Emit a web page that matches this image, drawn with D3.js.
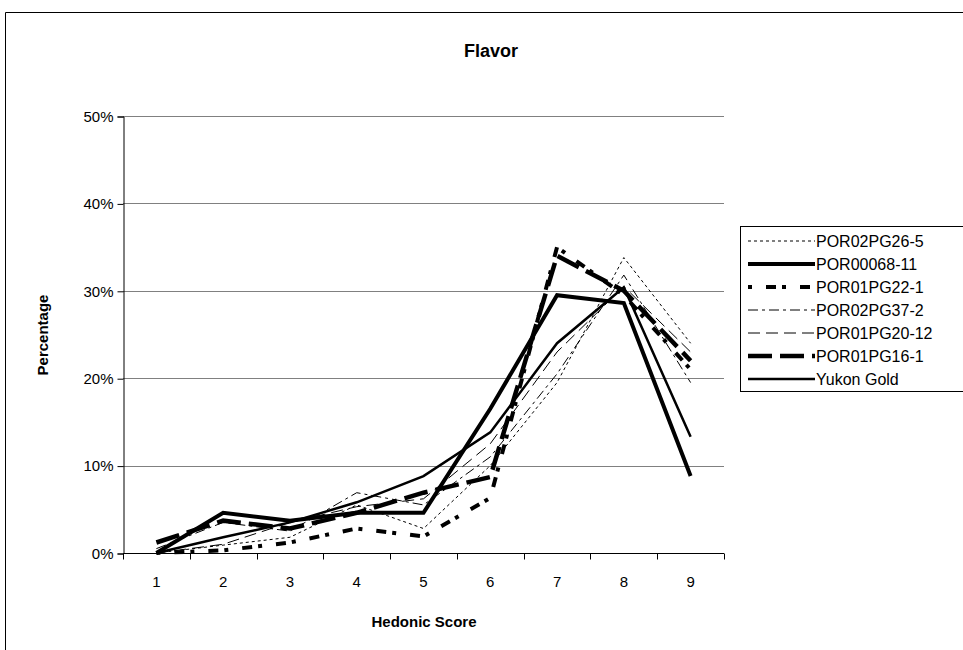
<!DOCTYPE html>
<html>
<head>
<meta charset="utf-8">
<script src="https://cdn.jsdelivr.net/npm/d3@7/dist/d3.min.js"></script>
<style>
  html, body { margin: 0; padding: 0; background: #fff; }
  svg { display: block; font-family: "Liberation Sans", Arial, sans-serif; }
</style>
</head>
<body>
<svg id="chart" width="963" height="650"></svg>
<script>
// Hedonic score categories and y-axis ticks
const scores = ["1", "2", "3", "4", "5", "6", "7", "8", "9"];
const yTicks = [0, 10, 20, 30, 40, 50];

// Percentage of panelists giving each score, per selection
const por02pg26_5  = [0.0, 0.9, 1.8, 5.5, 2.8, 10.0, 19.5, 33.8, 24.0];
const por00068_11  = [0.0, 4.6, 3.7, 4.6, 4.6, 16.5, 29.5, 28.6, 8.8];
const por01pg22_1  = [0.0, 0.3, 1.2, 2.8, 1.9, 6.3, 35.0, 29.5, 21.0];
const por02pg37_2  = [0.5, 3.5, 2.5, 6.9, 5.5, 11.0, 20.5, 31.8, 19.5];
const por01pg20_12 = [0.0, 1.0, 3.5, 5.3, 6.2, 12.5, 23.0, 30.5, 23.0];
const por01pg16_1  = [1.2, 3.7, 2.8, 4.6, 6.9, 8.7, 34.0, 30.0, 22.0];
const yukonGold    = [0.0, 1.8, 3.5, 5.8, 8.8, 13.8, 24.0, 30.4, 13.3];

const seriesNames = ["POR02PG26-5", "POR00068-11", "POR01PG22-1", "POR02PG37-2",
                     "POR01PG20-12", "POR01PG16-1", "Yukon Gold"];
const seriesValues = [por02pg26_5, por00068_11, por01pg22_1, por02pg37_2,
                      por01pg20_12, por01pg16_1, yukonGold];

// Line styles: width and dash pattern for each series
const styles = [
  { w: 1,   dash: "3,3" },
  { w: 4,   dash: null },
  { w: 4,   dash: "4,14,10,6" },
  { w: 1,   dash: "10,4,3,4" },
  { w: 1,   dash: "12,6" },
  { w: 4.5, dash: "24,8" },
  { w: 2.5, dash: null }
];

const svg = d3.select("#chart");

// Outer chart frame
svg.append("path")
  .attr("d", "M5.5,650 L5.5,12.5 L963,12.5")
  .attr("fill", "none").attr("stroke", "#000").attr("stroke-width", 1);

const plot = { left: 123, right: 724, top: 116, bottom: 553 };

const x = d3.scaleBand().domain(scores).range([plot.left, plot.right]);
const y = d3.scaleLinear().domain([0, 50]).range([plot.bottom, plot.top]);

// Gridlines
svg.append("g")
  .selectAll("line")
  .data(yTicks.filter(d => d > 0))
  .join("line")
  .attr("x1", plot.left).attr("x2", plot.right)
  .attr("y1", d => Math.round(y(d)) + 0.5).attr("y2", d => Math.round(y(d)) + 0.5)
  .attr("stroke", "#808080").attr("stroke-width", 1);

// Y axis
const yAxis = svg.append("g")
  .attr("transform", `translate(${plot.left + 0.5},0.5)`)
  .call(d3.axisLeft(y).tickValues(yTicks).tickFormat(d => d + "%").tickSize(6).tickPadding(4));
yAxis.select(".domain").attr("stroke", "#000");
yAxis.selectAll(".tick line").attr("stroke", "#000");
yAxis.selectAll(".tick text").attr("font-size", 15).attr("fill", "#000")
  .attr("font-family", "Liberation Sans, Arial, sans-serif");

// X axis with ticks between categories
const xAxisG = svg.append("g").attr("transform", `translate(0,${plot.bottom + 0.5})`);
xAxisG.append("line")
  .attr("x1", plot.left).attr("x2", plot.right)
  .attr("stroke", "#000");
xAxisG.selectAll("line.tk")
  .data(scores.map(s => x(s)).concat([plot.right]))
  .join("line").attr("class", "tk")
  .attr("x1", d => Math.round(d) + 0.5).attr("x2", d => Math.round(d) + 0.5)
  .attr("y1", 0).attr("y2", 6)
  .attr("stroke", "#000");
xAxisG.selectAll("text")
  .data(scores)
  .join("text")
  .attr("x", d => x(d) + x.bandwidth() / 2)
  .attr("y", 33)
  .attr("text-anchor", "middle")
  .attr("font-size", 15)
  .text(d => d);

// Series lines
const line = d3.line()
  .x((d, i) => x(scores[i]) + x.bandwidth() / 2)
  .y(d => y(d));

svg.append("g")
  .selectAll("path")
  .data(seriesValues)
  .join("path")
  .attr("d", d => line(d))
  .attr("fill", "none")
  .attr("stroke", "#000")
  .attr("stroke-width", (d, i) => styles[i].w)
  .attr("stroke-dasharray", (d, i) => styles[i].dash)
  .attr("stroke-linejoin", "miter");

// Title and axis titles
svg.append("text")
  .attr("x", 491).attr("y", 57)
  .attr("text-anchor", "middle")
  .attr("font-size", 18).attr("font-weight", "bold")
  .text("Flavor");

svg.append("text")
  .attr("x", 424).attr("y", 627)
  .attr("text-anchor", "middle")
  .attr("font-size", 15).attr("font-weight", "bold")
  .text("Hedonic Score");

svg.append("text")
  .attr("transform", "translate(48,335) rotate(-90)")
  .attr("text-anchor", "middle")
  .attr("font-size", 15).attr("font-weight", "bold")
  .text("Percentage");

// Legend
const legend = svg.append("g");
legend.append("rect")
  .attr("x", 740.5).attr("y", 226.5)
  .attr("width", 240).attr("height", 165)
  .attr("fill", "#fff").attr("stroke", "#000");

const items = legend.selectAll("g.item")
  .data(seriesNames)
  .join("g").attr("class", "item")
  .attr("transform", (d, i) => `translate(0,${241 + i * 23})`);

items.append("line")
  .attr("x1", 748).attr("x2", 815)
  .attr("y1", 0).attr("y2", 0)
  .attr("stroke", "#000")
  .attr("stroke-width", (d, i) => styles[i].w)
  .attr("stroke-dasharray", (d, i) => styles[i].dash);

items.append("text")
  .attr("x", 816).attr("y", 6)
  .attr("font-size", 16)
  .text(d => d);
</script>
</body>
</html>
